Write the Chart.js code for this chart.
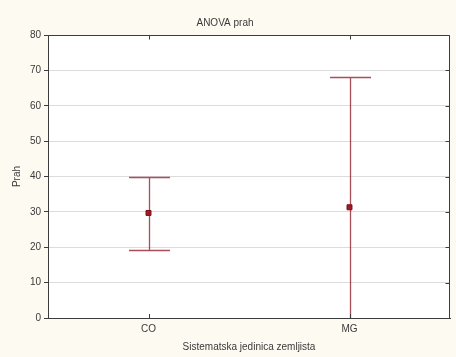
<!DOCTYPE html>
<html>
<head>
<meta charset="utf-8">
<title>ANOVA prah</title>
<script src="https://cdn.jsdelivr.net/npm/chart.js@4/dist/chart.umd.min.js"></script>
<style>
  html, body { margin: 0; padding: 0; background: #fdfaf2; }
  #chart { display: block; }
</style>
</head>
<body>
<canvas id="chart" width="456" height="357"></canvas>
<script>
// group means with their confidence bounds
const categories = ["CO", "MG"];
const means = [29.7, 31.3];
const lowerBounds = [19.3, -5.6];
const upperBounds = [40.0, 68.2];
const yMin = 0;
const yMax = 80;
const yStep = 10;

const font = { family: "'Liberation Sans', Arial, sans-serif", size: 10 };
const textColor = "#3a3a3a";
const axisColor = "#3c3c3c";
const barColor = "rgba(140, 20, 35, 0.75)";

// cream page behind, white plotting area
const backdrop = {
  id: "backdrop",
  beforeDraw(chart) {
    const { ctx, chartArea: a } = chart;
    ctx.save();
    ctx.fillStyle = "#fdfaf2";
    ctx.fillRect(0, 0, chart.width, chart.height);
    ctx.fillStyle = "#ffffff";
    ctx.fillRect(a.left, a.top, a.right - a.left, a.bottom - a.top);
    ctx.restore();
  }
};

// whiskers from lower to upper bound, with caps
const errorBars = {
  id: "errorBars",
  beforeDatasetsDraw(chart) {
    const { ctx, chartArea: a, scales: { x, y } } = chart;
    ctx.save();
    ctx.beginPath();
    ctx.rect(a.left, a.top, a.right - a.left, a.bottom - a.top);
    ctx.clip();
    ctx.strokeStyle = barColor;
    ctx.lineWidth = 1.3;
    categories.forEach((cat, i) => {
      const px = Math.round(x.getPixelForValue(i)) + 0.5;
      const lo = Math.round(y.getPixelForValue(lowerBounds[i])) + 0.5;
      const hi = Math.round(y.getPixelForValue(upperBounds[i])) + 0.5;
      const cap = 20.5;
      ctx.beginPath();
      ctx.moveTo(px, lo);
      ctx.lineTo(px, hi);
      ctx.moveTo(px - cap, hi);
      ctx.lineTo(px + cap, hi);
      ctx.moveTo(px - cap, lo);
      ctx.lineTo(px + cap, lo);
      ctx.stroke();
    });
    ctx.restore();
  }
};

// top and right sides of the frame, with inward mirror ticks
const frame = {
  id: "frame",
  afterDraw(chart) {
    const { ctx, chartArea: a, scales: { x, y } } = chart;
    const top = Math.round(a.top) + 0.5;
    const right = Math.round(a.right) - 0.5;
    ctx.save();
    ctx.strokeStyle = axisColor;
    ctx.lineWidth = 1;
    ctx.beginPath();
    ctx.moveTo(a.left, top);
    ctx.lineTo(right, top);
    ctx.lineTo(right, a.bottom);
    y.ticks.forEach((t) => {
      const py = Math.round(y.getPixelForValue(t.value)) + 0.5;
      ctx.moveTo(right - 4, py);
      ctx.lineTo(right, py);
    });
    x.ticks.forEach((t) => {
      const px = Math.round(x.getPixelForValue(t.value)) + 0.5;
      ctx.moveTo(px, top);
      ctx.lineTo(px, top + 4);
      ctx.moveTo(px, a.bottom);
      ctx.lineTo(px, a.bottom - 4);
    });
    ctx.stroke();
    ctx.restore();
  }
};

new Chart(document.getElementById("chart"), {
  type: "line",
  data: {
    labels: categories,
    datasets: [{
      label: "Prah",
      data: means,
      showLine: false,
      pointStyle: "rect",
      pointRadius: 3.5,
      pointHoverRadius: 3.5,
      pointBackgroundColor: "#9e1b26",
      pointBorderColor: "#7a0f18",
      pointBorderWidth: 1
    }]
  },
  options: {
    responsive: false,
    animation: false,
    layout: { padding: { left: 0, right: 6, top: 0, bottom: 0 } },
    plugins: {
      legend: { display: false },
      tooltip: { enabled: false },
      title: {
        display: true,
        text: "ANOVA prah",
        color: textColor,
        font: { ...font, weight: "normal" },
        padding: { top: 17, bottom: 6 }
      }
    },
    scales: {
      x: {
        type: "category",
        offset: true,
        grid: { display: false, drawTicks: false },
        border: { display: true, color: axisColor, width: 1 },
        ticks: { color: textColor, font, padding: 5, maxRotation: 0 },
        title: {
          display: true,
          text: "Sistematska jedinica zemljista",
          color: textColor,
          font,
          padding: { top: 4, bottom: 4 }
        },
        afterFit(s) { s.height = 39; }
      },
      y: {
        min: yMin,
        max: yMax,
        ticks: { stepSize: yStep, color: textColor, font, padding: 3 },
        grid: { color: "#dcdcdc", tickColor: axisColor, tickLength: 4, lineWidth: 1 },
        border: { display: true, color: axisColor, width: 1 },
        title: {
          display: true,
          text: "Prah",
          color: textColor,
          font,
          padding: { top: 11, bottom: 4 }
        },
        afterFit(s) { s.width = 48; }
      }
    }
  },
  plugins: [backdrop, errorBars, frame]
});
</script>
</body>
</html>
